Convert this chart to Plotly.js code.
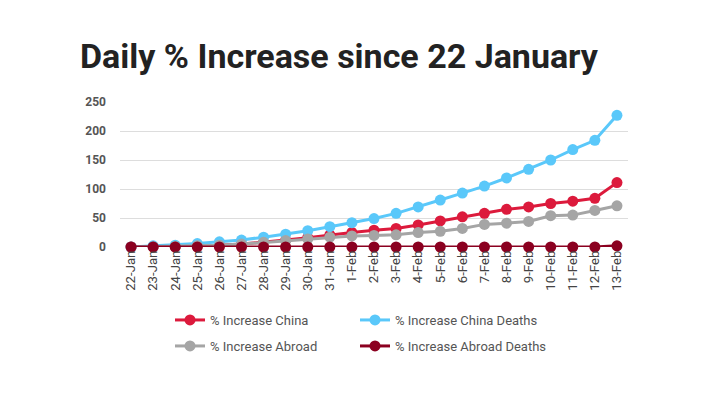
<!DOCTYPE html>
<html>
<head>
<meta charset="utf-8">
<script src="https://cdn.plot.ly/plotly-3.0.1.min.js"></script>
<style>html,body{margin:0;padding:0;background:#fff;}#chart{width:713px;height:399px;}</style>
</head>
<body>
<div id="chart"></div>
<script>
const dates = ["22-Jan","23-Jan","24-Jan","25-Jan","26-Jan","27-Jan","28-Jan","29-Jan","30-Jan","31-Jan","1-Feb","2-Feb","3-Feb","4-Feb","5-Feb","6-Feb","7-Feb","8-Feb","9-Feb","10-Feb","11-Feb","12-Feb","13-Feb"];
const increaseChina = [0,0.5,1,2,3,5,8,12,16,21,25,29,32,38,45,52,58,65,69,75,79,84,111];
const increaseChinaDeaths = [0,2,3,6,9,12,17,22,28,35,42,49,58,69,81,93,105,119,134,150,168,184,227];
const increaseAbroad = [0,0.5,1,2,3,5,8,11,14,17,19,20,21,25,27,32,39,41,44,54,55,63,71];
const increaseAbroadDeaths = [0,0,0,0,0,0,0,0,0,0,0,0,0,0,0,0,0,0,0,0,0,0,2];
const yTicks = [0,50,100,150,200,250];

function tr(name, y, color, legend) {
  return {
    type: 'scatter', mode: 'lines+markers', name: name, x: dates, y: y,
    line: {color: color, width: 3}, marker: {color: color, size: 11},
    cliponaxis: false, legend: legend
  };
}
const data = [
  tr('% Increase China', increaseChina, '#DC1A3C', 'legend'),
  tr('% Increase China Deaths', increaseChinaDeaths, '#5AC8FA', 'legend2'),
  tr('% Increase Abroad', increaseAbroad, '#A5A5A5', 'legend3'),
  tr('% Increase Abroad Deaths', increaseAbroadDeaths, '#8B0020', 'legend4')
];
function leg(x, y) {
  return {
    orientation: 'h', xref: 'container', yref: 'container',
    xanchor: 'left', yanchor: 'middle', x: x / 713, y: 1 - y / 399,
    font: {family: 'Roboto', size: 13, color: '#555'}, bgcolor: 'rgba(0,0,0,0)'
  };
}
const layout = {
  width: 713, height: 399,
  paper_bgcolor: '#fff', plot_bgcolor: '#fff',
  margin: {l: 120, r: 85, t: 102, b: 152},
  title: {text: 'Daily % Increase since 22 January', x: 80/713, xanchor: 'left', xref: 'container',
    y: 1 - 56/399, yanchor: 'middle', yref: 'container',
    font: {family: 'Roboto', size: 34, weight: 'bold', color: '#222'}},
  showlegend: true,
  legend: leg(170, 320),
  legend2: leg(355, 320),
  legend3: leg(170, 346),
  legend4: leg(355, 346),
  xaxis: {type: 'category', range: [-0.5, dates.length - 0.5], tickangle: -90, showgrid: false,
    zeroline: false, showline: false, ticks: '',
    tickfont: {family: 'Roboto', size: 13.2, color: '#444'}, fixedrange: true},
  yaxis: {range: [0, 250], tickvals: yTicks, showgrid: true, gridcolor: '#DDDDDD', gridwidth: 1,
    zeroline: false, showline: false, ticks: '', ticklabelstandoff: 13,
    tickfont: {family: 'Roboto', size: 12, weight: 'bold', color: '#555'}, fixedrange: true}
};
Plotly.newPlot('chart', data, layout, {displayModeBar: false, staticPlot: true});
</script>
</body>
</html>
